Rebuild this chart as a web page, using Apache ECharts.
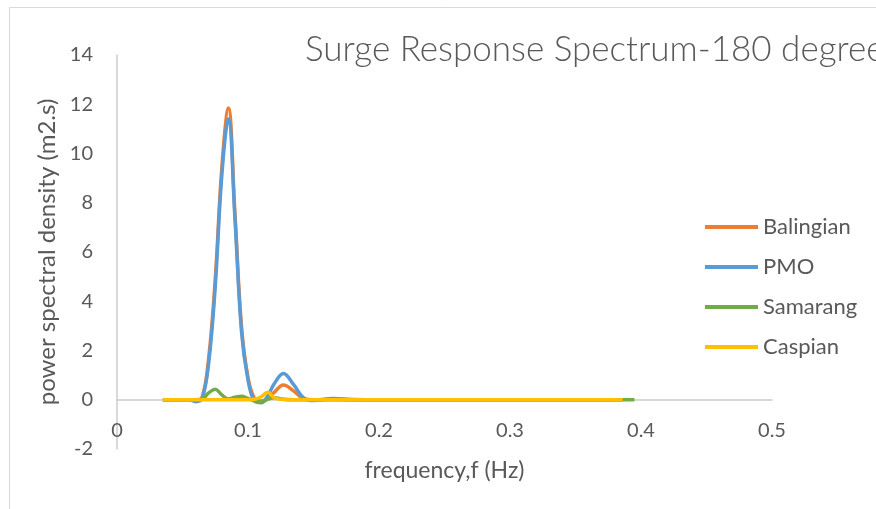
<!DOCTYPE html>
<html>
<head>
<meta charset="utf-8">
<script src="https://cdn.jsdelivr.net/npm/echarts@6/dist/echarts.min.js"></script>
<style>
  html, body { margin: 0; padding: 0; background: #ffffff; }
  #chart { width: 876px; height: 509px; }
</style>
</head>
<body>
<div id="chart"></div>
<script>
const titleText = 'Surge Response Spectrum-180 degree';
const xAxisName = 'frequency,f (Hz)';
const yAxisName = 'power spectral density (m2.s)';
const seriesNames = ['Balingian', 'PMO', 'Samarang', 'Caspian'];

const freq = [0.035, 0.045, 0.055, 0.06, 0.065, 0.07, 0.075, 0.08, 0.085, 0.09, 0.095, 0.1, 0.105, 0.11, 0.115, 0.12, 0.127, 0.135, 0.143, 0.15, 0.165, 0.18, 0.2, 0.25, 0.3, 0.35, 0.386];
const freqSamarang = [0.035, 0.045, 0.055, 0.06, 0.065, 0.07, 0.075, 0.08, 0.085, 0.09, 0.095, 0.1, 0.105, 0.11, 0.115, 0.12, 0.127, 0.135, 0.143, 0.15, 0.165, 0.18, 0.2, 0.25, 0.3, 0.35, 0.395];

const balingian = [0, 0, 0, -0.03, 0.1, 1.7, 4.9, 9.4, 11.85, 7.6, 3.0, 0.9, 0.05, -0.05, 0.05, 0.3, 0.6, 0.35, 0.03, 0, 0.02, 0, 0, 0, 0, 0, 0];
const pmo = [0, 0, 0, -0.08, 0.05, 1.5, 4.6, 9.1, 11.4, 7.4, 2.8, 0.8, -0.05, -0.12, 0.15, 0.65, 1.07, 0.6, 0.05, -0.03, 0.05, 0.01, 0, 0, 0, 0, 0];
const samarang = [0, 0, 0, 0, 0.03, 0.28, 0.43, 0.2, 0.03, 0.1, 0.14, 0.05, -0.05, -0.1, 0.02, 0.08, 0.02, 0, 0, 0, 0, 0, 0, 0, 0, 0, 0];
const caspian = [0, 0, 0, 0, 0, 0, 0, 0, 0, 0, 0, 0, 0.02, 0.12, 0.3, 0.08, 0.01, 0, 0, 0, 0, 0, 0, 0, 0, 0, 0];

const yTicks = { min: -2, max: 14, interval: 2 };
const xTicks = { min: 0, max: 0.5, interval: 0.1 };

const colors = ['#ED7D31', '#5B9BD5', '#70AD47', '#FFC000'];
const FONT = 'Lato, "Open Sans", sans-serif';
const TXT = '#595959';

function pairs(xs, ys) { return xs.map((x, i) => [x, ys[i]]); }

const seriesData = [
  pairs(freq, balingian),
  pairs(freq, pmo),
  pairs(freqSamarang, samarang),
  pairs(freq, caspian)
];

const chart = echarts.init(document.getElementById('chart'), null, { renderer: 'canvas' });
chart.setOption({
  animation: false,
  backgroundColor: '#ffffff',
  color: colors,
  title: {
    text: titleText,
    left: 300,
    top: 27,
    textStyle: { fontFamily: FONT, fontSize: 35, fontWeight: 300, color: TXT }
  },
  graphic: [{
    type: 'rect',
    left: 7, top: 5,
    shape: { width: 900, height: 600 },
    style: { fill: 'none', stroke: '#d9d9d9', lineWidth: 1 },
    z: -1
  }],
  legend: {
    orient: 'vertical',
    left: 705,
    top: 216,
    padding: 0,
    icon: 'rect',
    itemWidth: 53,
    itemHeight: 4,
    itemGap: 18,
    data: seriesNames,
    textStyle: { fontFamily: FONT, fontSize: 22, color: TXT, lineHeight: 22 }
  },
  grid: { left: 117, right: 104, top: 55, bottom: 60, outerBoundsMode: 'none', containLabel: false },
  xAxis: {
    type: 'value',
    min: xTicks.min, max: xTicks.max, interval: xTicks.interval,
    name: xAxisName,
    nameLocation: 'middle',
    nameGap: 10,
    nameTextStyle: { fontFamily: FONT, fontSize: 23, color: TXT },
    axisLine: { onZero: true, lineStyle: { color: '#cccccc', width: 1.5 } },
    axisTick: { show: false },
    splitLine: { show: false },
    axisLabel: { fontFamily: FONT, fontSize: 20, color: TXT, margin: -28 }
  },
  yAxis: {
    type: 'value',
    min: yTicks.min, max: yTicks.max, interval: yTicks.interval,
    name: yAxisName,
    nameLocation: 'middle',
    nameGap: 58,
    nameTextStyle: { fontFamily: FONT, fontSize: 24, color: TXT },
    axisLine: { show: true, lineStyle: { color: '#cccccc', width: 1.5 } },
    axisTick: { show: false },
    splitLine: { show: false },
    axisLabel: { fontFamily: FONT, fontSize: 20, color: TXT, margin: 24 }
  },
  series: seriesNames.map((name, i) => ({
    name: name,
    type: 'line',
    data: seriesData[i],
    smooth: 0.4,
    showSymbol: false,
    symbol: 'none',
    lineStyle: { width: 3.5, color: colors[i] },
    itemStyle: { color: colors[i] },
    z: 2 + i
  }))
});
</script>
</body>
</html>
